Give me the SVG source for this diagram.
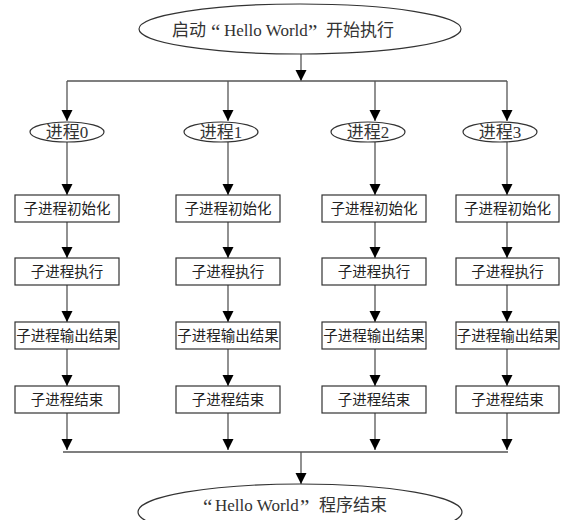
<svg xmlns="http://www.w3.org/2000/svg" width="563" height="520" viewBox="0 0 563 520">
<style>
.sh{fill:#fff;stroke:#333;stroke-width:1.2}
.ln{fill:none;stroke:#555;stroke-width:1.3}
.t{font-family:"Liberation Serif","Noto Sans CJK SC",serif;fill:#333}
.q{font-size:21px}
.bt{font-family:"Noto Sans CJK SC",sans-serif;font-size:14.5px;fill:#222;text-anchor:middle}
.et{font-family:"Liberation Serif","Noto Sans CJK SC",serif;font-size:17px;fill:#333;text-anchor:middle}
</style>
<defs>
<marker id="ah" markerUnits="userSpaceOnUse" markerWidth="12" markerHeight="12" refX="11" refY="5.5" orient="auto">
<path d="M0,0 L11,5.5 L0,11 z" fill="#000"/>
</marker>
</defs>
<rect width="563" height="520" fill="#fff"/>
<g id="connectors">
<line class="ln" x1="301" y1="54" x2="301" y2="81" marker-end="url(#ah)"/>
<line class="ln" x1="67" y1="81" x2="507" y2="81"/>
<line class="ln" x1="67" y1="81" x2="67" y2="121" marker-end="url(#ah)"/>
<line class="ln" x1="228" y1="81" x2="228" y2="121" marker-end="url(#ah)"/>
<line class="ln" x1="375" y1="81" x2="375" y2="121" marker-end="url(#ah)"/>
<line class="ln" x1="507" y1="81" x2="507" y2="121" marker-end="url(#ah)"/>
<g id="c0">
<line class="ln" x1="67" y1="142" x2="67" y2="195" marker-end="url(#ah)"/>
<line class="ln" x1="67" y1="222" x2="67" y2="258" marker-end="url(#ah)"/>
<line class="ln" x1="67" y1="285" x2="67" y2="322" marker-end="url(#ah)"/>
<line class="ln" x1="67" y1="349" x2="67" y2="386" marker-end="url(#ah)"/>
<line class="ln" x1="67" y1="413" x2="67" y2="450" marker-end="url(#ah)"/>
</g>
<g id="c1">
<line class="ln" x1="228" y1="142" x2="228" y2="195" marker-end="url(#ah)"/>
<line class="ln" x1="228" y1="222" x2="228" y2="258" marker-end="url(#ah)"/>
<line class="ln" x1="228" y1="285" x2="228" y2="322" marker-end="url(#ah)"/>
<line class="ln" x1="228" y1="349" x2="228" y2="386" marker-end="url(#ah)"/>
<line class="ln" x1="228" y1="413" x2="228" y2="450" marker-end="url(#ah)"/>
</g>
<g id="c2">
<line class="ln" x1="375" y1="142" x2="375" y2="195" marker-end="url(#ah)"/>
<line class="ln" x1="375" y1="222" x2="375" y2="258" marker-end="url(#ah)"/>
<line class="ln" x1="375" y1="285" x2="375" y2="322" marker-end="url(#ah)"/>
<line class="ln" x1="375" y1="349" x2="375" y2="386" marker-end="url(#ah)"/>
<line class="ln" x1="375" y1="413" x2="375" y2="450" marker-end="url(#ah)"/>
</g>
<g id="c3">
<line class="ln" x1="507" y1="142" x2="507" y2="195" marker-end="url(#ah)"/>
<line class="ln" x1="507" y1="222" x2="507" y2="258" marker-end="url(#ah)"/>
<line class="ln" x1="507" y1="285" x2="507" y2="322" marker-end="url(#ah)"/>
<line class="ln" x1="507" y1="349" x2="507" y2="386" marker-end="url(#ah)"/>
<line class="ln" x1="507" y1="413" x2="507" y2="450" marker-end="url(#ah)"/>
</g>
<line class="ln" x1="63" y1="452" x2="508" y2="452"/>
<line class="ln" x1="301" y1="452" x2="301" y2="484" marker-end="url(#ah)"/>
</g>
<g id="start">
<ellipse class="sh" cx="300" cy="29" rx="161" ry="25"/>
<text class="t" font-size="17" y="36"><tspan x="172">启动</tspan><tspan class="q" x="211" y="39">“</tspan><tspan x="224" y="36">Hello World</tspan><tspan class="q" x="308" y="39">”</tspan><tspan x="326" y="36">开始执行</tspan></text>
</g>
<g id="p0"><ellipse class="sh" cx="67" cy="132" rx="37" ry="10"/><text class="et" x="67" y="138">进程0</text></g>
<g id="p1"><ellipse class="sh" cx="221" cy="132" rx="37" ry="10"/><text class="et" x="221" y="138">进程1</text></g>
<g id="p2"><ellipse class="sh" cx="368" cy="132" rx="37" ry="10"/><text class="et" x="368" y="138">进程2</text></g>
<g id="p3"><ellipse class="sh" cx="500" cy="132" rx="37" ry="10"/><text class="et" x="500" y="138">进程3</text></g>
<g id="col0">
<g id="init0"><rect class="sh" x="15" y="195" width="104" height="27"/><text class="bt" x="67" y="213.5">子进程初始化</text></g>
<g id="exec0"><rect class="sh" x="15" y="258" width="104" height="27"/><text class="bt" x="67" y="276.5">子进程执行</text></g>
<g id="out0"><rect class="sh" x="15" y="322" width="104" height="27"/><text class="bt" x="67" y="340.5">子进程输出结果</text></g>
<g id="end0"><rect class="sh" x="15" y="386" width="104" height="27"/><text class="bt" x="67" y="404.5">子进程结束</text></g>
</g>
<g id="col1">
<g id="init1"><rect class="sh" x="176" y="195" width="104" height="27"/><text class="bt" x="228" y="213.5">子进程初始化</text></g>
<g id="exec1"><rect class="sh" x="176" y="258" width="104" height="27"/><text class="bt" x="228" y="276.5">子进程执行</text></g>
<g id="out1"><rect class="sh" x="176" y="322" width="104" height="27"/><text class="bt" x="228" y="340.5">子进程输出结果</text></g>
<g id="end1"><rect class="sh" x="176" y="386" width="104" height="27"/><text class="bt" x="228" y="404.5">子进程结束</text></g>
</g>
<g id="col2">
<g id="init2"><rect class="sh" x="322" y="195" width="104" height="27"/><text class="bt" x="374" y="213.5">子进程初始化</text></g>
<g id="exec2"><rect class="sh" x="322" y="258" width="104" height="27"/><text class="bt" x="374" y="276.5">子进程执行</text></g>
<g id="out2"><rect class="sh" x="322" y="322" width="104" height="27"/><text class="bt" x="374" y="340.5">子进程输出结果</text></g>
<g id="end2"><rect class="sh" x="322" y="386" width="104" height="27"/><text class="bt" x="374" y="404.5">子进程结束</text></g>
</g>
<g id="col3">
<g id="init3"><rect class="sh" x="456" y="195" width="103" height="27"/><text class="bt" x="507.5" y="213.5">子进程初始化</text></g>
<g id="exec3"><rect class="sh" x="456" y="258" width="103" height="27"/><text class="bt" x="507.5" y="276.5">子进程执行</text></g>
<g id="out3"><rect class="sh" x="456" y="322" width="103" height="27"/><text class="bt" x="507.5" y="340.5">子进程输出结果</text></g>
<g id="end3"><rect class="sh" x="456" y="386" width="103" height="27"/><text class="bt" x="507.5" y="404.5">子进程结束</text></g>
</g>
<g id="finish">
<ellipse class="sh" cx="300" cy="512" rx="162" ry="28"/>
<text class="t" font-size="17" y="511"><tspan class="q" x="203" y="514">“</tspan><tspan x="215" y="511">Hello World</tspan><tspan class="q" x="300" y="514">”</tspan><tspan x="319" y="511">程序结束</tspan></text>
</g>
</svg>
